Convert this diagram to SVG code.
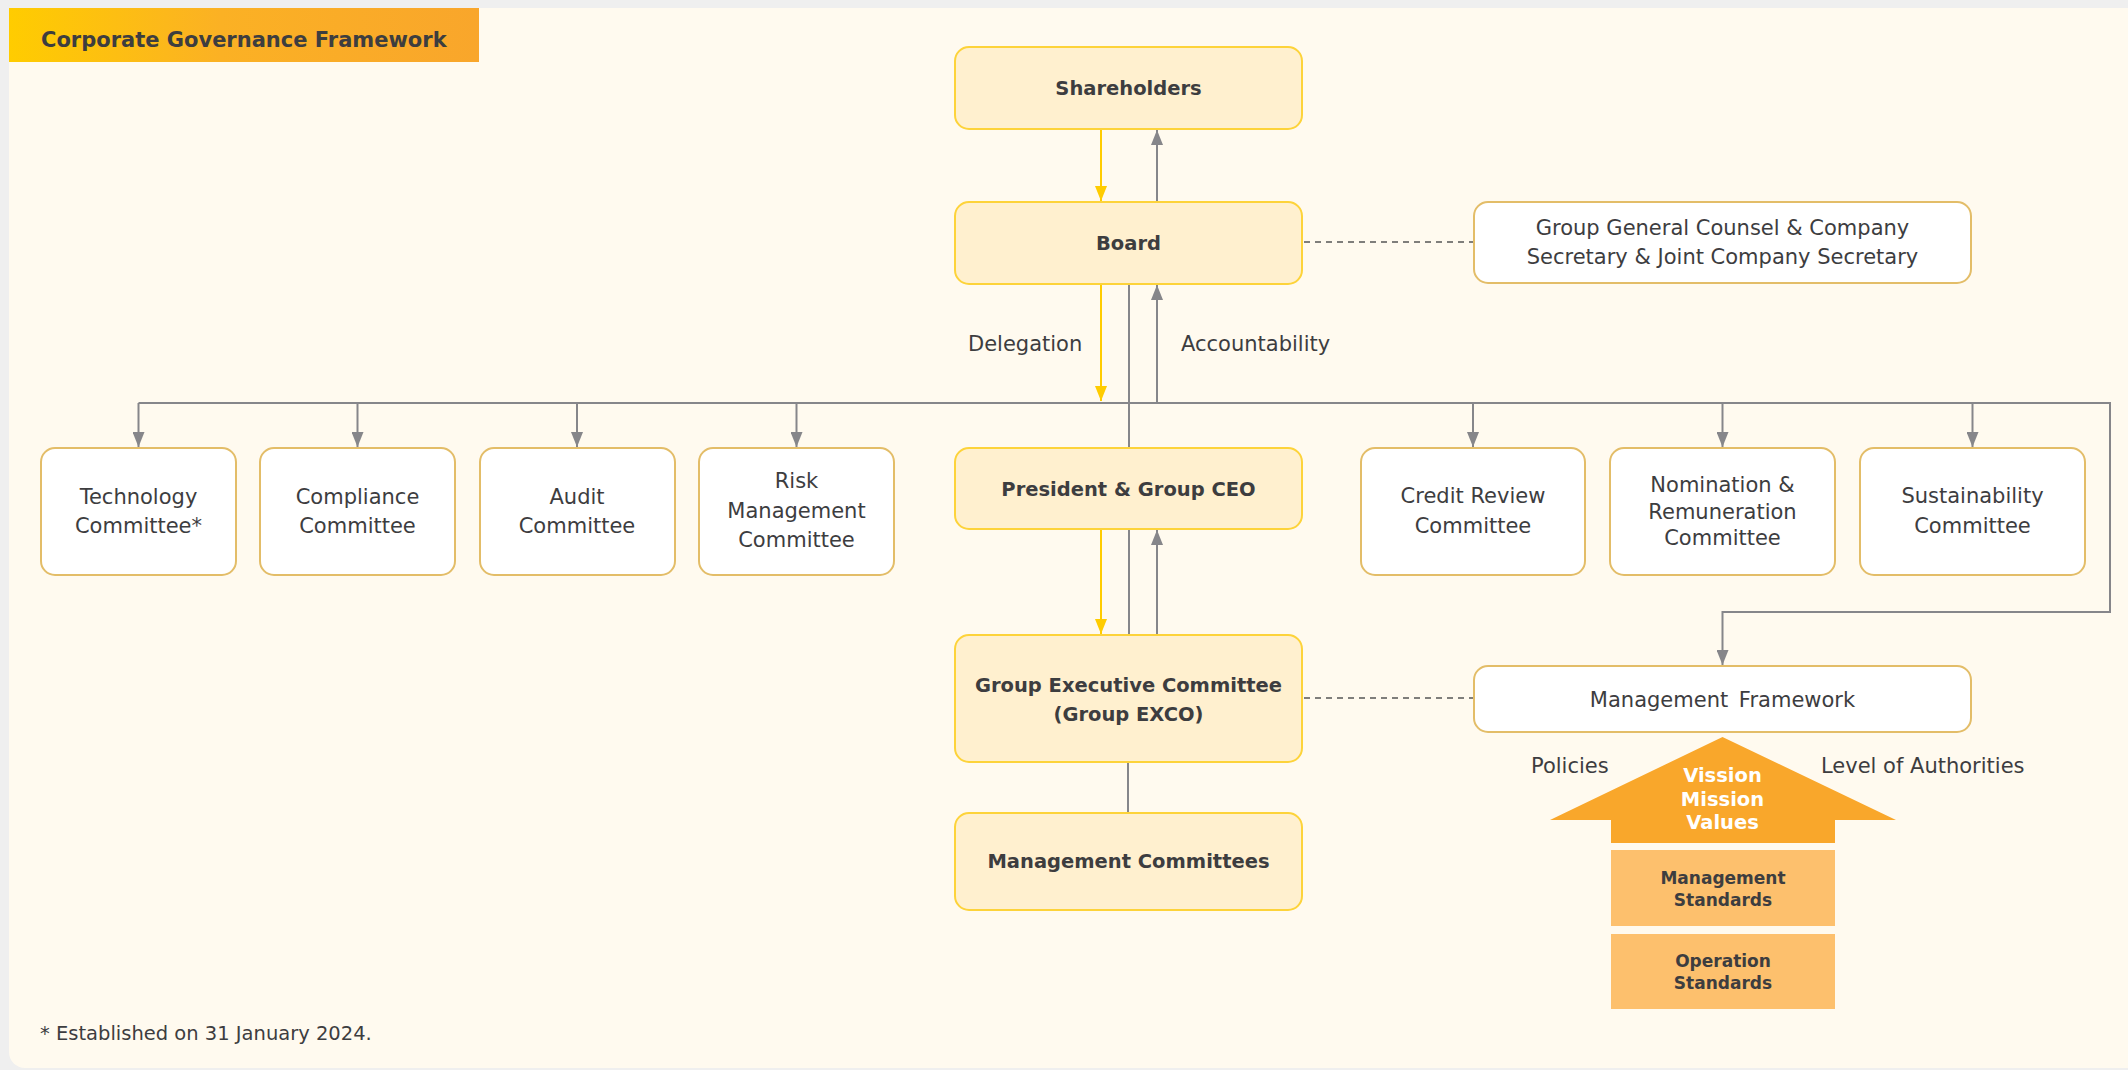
<svg xmlns="http://www.w3.org/2000/svg" width="2128" height="1070" viewBox="0 0 2128 1070">
<defs>
<linearGradient id="tg" x1="0" y1="0" x2="1" y2="0">
<stop offset="0" stop-color="#ffcc00"/>
<stop offset="0.45" stop-color="#fbb124"/>
<stop offset="1" stop-color="#f9a62b"/>
</linearGradient>
<marker id="ag" viewBox="0 0 15 12" refX="15" refY="6" markerWidth="15" markerHeight="12" markerUnits="userSpaceOnUse" orient="auto">
<path d="M0,0 L15,6 L0,12 z" fill="#86868a"/>
</marker>
<marker id="ay" viewBox="0 0 15 12" refX="15" refY="6" markerWidth="15" markerHeight="12" markerUnits="userSpaceOnUse" orient="auto">
<path d="M0,0 L15,6 L0,12 z" fill="#ffcc00"/>
</marker>
</defs>
<style>
.y{fill:#fff0cf;stroke:#fdd33a;stroke-width:2}
.w{fill:#ffffff;stroke:#e3bd68;stroke-width:2}
.b{font-family:"DejaVu Sans",sans-serif;font-weight:bold;font-size:19.5px;fill:#3d3d3f;text-anchor:middle}
.r{font-family:"DejaVu Sans",sans-serif;font-size:21px;fill:#3d3d3f;text-anchor:middle}
.l{font-family:"DejaVu Sans",sans-serif;font-size:21px;fill:#3d3d3f}
.g{fill:none;stroke:#86868a;stroke-width:2}
.gy{fill:none;stroke:#ffcc00;stroke-width:2}
.d{fill:none;stroke:#555;stroke-width:1.6;stroke-dasharray:6 5}
</style>
<rect x="0" y="0" width="2128" height="1070" fill="#efefef"/>
<rect x="9" y="8" width="2140" height="1060" rx="16" fill="#fffaef"/>
<g id="title">
<rect x="9" y="8" width="470" height="54" fill="url(#tg)"/>
<text x="41" y="47" font-family="DejaVu Sans, sans-serif" font-weight="bold" font-size="21" fill="#3d3d3f">Corporate Governance Framework</text>
</g>
<g id="connectors">
<line class="gy" x1="1101" y1="129" x2="1101" y2="201" marker-end="url(#ay)"/>
<line class="g" x1="1157" y1="202" x2="1157" y2="130" marker-end="url(#ag)"/>
<line class="gy" x1="1101" y1="284" x2="1101" y2="401" marker-end="url(#ay)"/>
<line class="g" x1="1157" y1="403" x2="1157" y2="285" marker-end="url(#ag)"/>
<line class="g" x1="1129" y1="284" x2="1129" y2="448"/>
<polyline class="g" points="138.5,403 2110,403 2110,612 1722.5,612 1722.5,665" marker-end="url(#ag)"/>
<line class="g" x1="138.5" y1="403" x2="138.5" y2="447" marker-end="url(#ag)"/>
<line class="g" x1="357.5" y1="403" x2="357.5" y2="447" marker-end="url(#ag)"/>
<line class="g" x1="577" y1="403" x2="577" y2="447" marker-end="url(#ag)"/>
<line class="g" x1="796.5" y1="403" x2="796.5" y2="447" marker-end="url(#ag)"/>
<line class="g" x1="1473" y1="403" x2="1473" y2="447" marker-end="url(#ag)"/>
<line class="g" x1="1722.5" y1="403" x2="1722.5" y2="447" marker-end="url(#ag)"/>
<line class="g" x1="1972.5" y1="403" x2="1972.5" y2="447" marker-end="url(#ag)"/>
<line class="gy" x1="1101" y1="529" x2="1101" y2="634" marker-end="url(#ay)"/>
<line class="g" x1="1129" y1="529" x2="1129" y2="635"/>
<line class="g" x1="1157" y1="635" x2="1157" y2="530" marker-end="url(#ag)"/>
<line class="g" x1="1128" y1="762" x2="1128" y2="813"/>
<line class="d" x1="1304" y1="242" x2="1474" y2="242"/>
<line class="d" x1="1304" y1="698" x2="1474" y2="698"/>
</g>
<g id="shareholders">
<rect class="y" x="955" y="47" width="347" height="82" rx="14"/>
<text class="b" x="1128.5" y="95">Shareholders</text>
</g>
<g id="board">
<rect class="y" x="955" y="202" width="347" height="82" rx="14"/>
<text class="b" x="1128.5" y="250">Board</text>
</g>
<g id="gc">
<rect class="w" x="1474" y="202" width="497" height="81" rx="14"/>
<text class="r" x="1722.5" y="235">Group General Counsel &amp; Company</text>
<text class="r" x="1722.5" y="264">Secretary &amp; Joint Company Secretary</text>
</g>
<g id="labels">
<text class="l" x="968" y="351">Delegation</text>
<text class="l" x="1181" y="351">Accountability</text>
</g>
<g id="tech">
<rect class="w" x="41" y="448" width="195" height="127" rx="14"/>
<text class="r" x="138.5" y="504">Technology</text>
<text class="r" x="138.5" y="533">Committee*</text>
</g>
<g id="compliance">
<rect class="w" x="260" y="448" width="195" height="127" rx="14"/>
<text class="r" x="357.5" y="504">Compliance</text>
<text class="r" x="357.5" y="533">Committee</text>
</g>
<g id="audit">
<rect class="w" x="480" y="448" width="195" height="127" rx="14"/>
<text class="r" x="577" y="504">Audit</text>
<text class="r" x="577" y="533">Committee</text>
</g>
<g id="risk">
<rect class="w" x="699" y="448" width="195" height="127" rx="14"/>
<text class="r" x="796.5" y="488">Risk</text>
<text class="r" x="796.5" y="518">Management</text>
<text class="r" x="796.5" y="547">Committee</text>
</g>
<g id="president">
<rect class="y" x="955" y="448" width="347" height="81" rx="14"/>
<text class="b" x="1128.5" y="496">President &amp; Group CEO</text>
</g>
<g id="credit">
<rect class="w" x="1361" y="448" width="224" height="127" rx="14"/>
<text class="r" x="1473" y="503">Credit Review</text>
<text class="r" x="1473" y="533">Committee</text>
</g>
<g id="nomination">
<rect class="w" x="1610" y="448" width="225" height="127" rx="14"/>
<text class="r" x="1722.5" y="492">Nomination &amp;</text>
<text class="r" x="1722.5" y="519">Remuneration</text>
<text class="r" x="1722.5" y="545">Committee</text>
</g>
<g id="sustainability">
<rect class="w" x="1860" y="448" width="225" height="127" rx="14"/>
<text class="r" x="1972.5" y="503">Sustainability</text>
<text class="r" x="1972.5" y="533">Committee</text>
</g>
<g id="exco">
<rect class="y" x="955" y="635" width="347" height="127" rx="14"/>
<text class="b" x="1128.5" y="692">Group Executive Committee</text>
<text class="b" x="1128.5" y="721">(Group EXCO)</text>
</g>
<g id="mgmtcommittees">
<rect class="y" x="955" y="813" width="347" height="97" rx="14"/>
<text class="b" x="1128.5" y="868">Management Committees</text>
</g>
<g id="mgmtframework">
<rect class="w" x="1474" y="666" width="497" height="66" rx="14"/>
<text class="r" x="1722.5" y="707" word-spacing="4">Management Framework</text>
</g>
<g id="vmv">
<polygon points="1722.5,737 1896,820 1835,820 1835,843 1611,843 1611,820 1550,820" fill="#f9a72b"/>
<text class="b" x="1722.5" y="782" style="fill:#ffffff">Vission</text>
<text class="b" x="1722.5" y="806" style="fill:#ffffff">Mission</text>
<text class="b" x="1722.5" y="829" style="fill:#ffffff">Values</text>
</g>
<g id="policies">
<text class="l" x="1531" y="773">Policies</text>
<text class="l" x="1821" y="773">Level of Authorities</text>
</g>
<g id="mgmtstandards">
<rect x="1611" y="850" width="224" height="76" fill="#fdc06d"/>
<text class="b" x="1723" y="884" style="font-size:17px">Management</text>
<text class="b" x="1723" y="906" style="font-size:17px">Standards</text>
</g>
<g id="opstandards">
<rect x="1611" y="934" width="224" height="75" fill="#fdc06d"/>
<text class="b" x="1723" y="967" style="font-size:17px">Operation</text>
<text class="b" x="1723" y="989" style="font-size:17px">Standards</text>
</g>
<g id="footnote">
<text class="l" x="40" y="1040" style="font-size:19.5px">* Established on 31 January 2024.</text>
</g>
</svg>
